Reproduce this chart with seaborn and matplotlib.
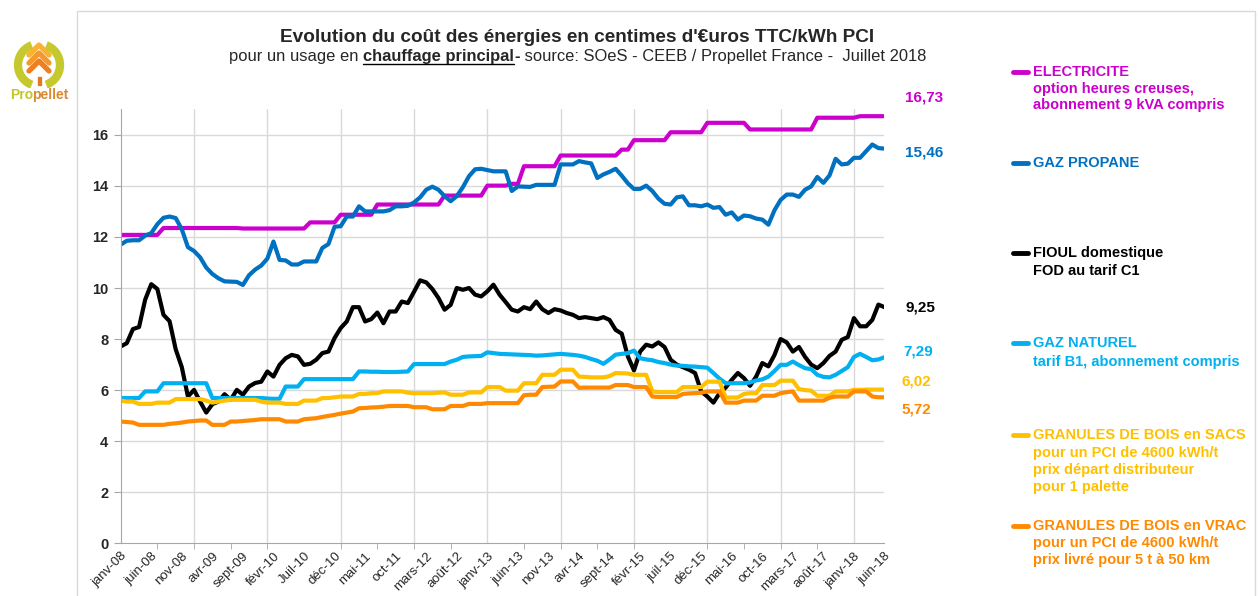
import numpy as np
import pandas as pd
import seaborn as sns
import matplotlib.pyplot as plt
from matplotlib.lines import Line2D
from matplotlib.patches import Rectangle, Arc

W, H = 1260, 596

# Etiquettes de l'axe des mois (une tous les 5 mois, janv-08 -> juin-18)
mois_labels = ["janv-08", "juin-08", "nov-08", "avr-09", "sept-09", "févr-10", "Juil-10",
               "déc-10", "mai-11", "oct-11", "mars-12", "août-12", "janv-13", "juin-13",
               "nov-13", "avr-14", "sept-14", "févr-15", "juil-15", "déc-15", "mai-16",
               "oct-16", "mars-17", "août-17", "janv-18", "juin-18"]

# Prix mensuels en centimes d'euro TTC / kWh PCI, une ligne par année
electricite = [
    12.08, 12.08, 12.08, 12.08, 12.08, 12.08, 12.08, 12.35, 12.35, 12.35, 12.35, 12.35,
    12.35, 12.35, 12.35, 12.35, 12.35, 12.35, 12.35, 12.35, 12.33, 12.33, 12.33, 12.33,
    12.33, 12.33, 12.33, 12.33, 12.33, 12.33, 12.33, 12.57, 12.57, 12.57, 12.57, 12.57,
    12.87, 12.87, 12.87, 12.87, 12.87, 12.87, 13.27, 13.27, 13.27, 13.27, 13.27, 13.27,
    13.27, 13.27, 13.27, 13.27, 13.27, 13.62, 13.62, 13.62, 13.62, 13.62, 13.62, 13.62,
    14.01, 14.01, 14.01, 14.01, 14.08, 14.08, 14.77, 14.77, 14.77, 14.77, 14.77, 14.77,
    15.19, 15.19, 15.19, 15.19, 15.19, 15.19, 15.19, 15.19, 15.19, 15.19, 15.42, 15.42,
    15.79, 15.79, 15.79, 15.79, 15.79, 15.79, 16.10, 16.10, 16.10, 16.10, 16.10, 16.10,
    16.47, 16.47, 16.47, 16.47, 16.47, 16.47, 16.47, 16.21, 16.21, 16.21, 16.21, 16.21,
    16.21, 16.21, 16.21, 16.21, 16.21, 16.21, 16.67, 16.67, 16.67, 16.67, 16.67, 16.67,
    16.67, 16.73, 16.73, 16.73, 16.73, 16.73,
]
propane = [
    11.70, 11.85, 11.87, 11.87, 12.05, 12.15, 12.50, 12.75, 12.80, 12.74, 12.30, 11.60,
    11.45, 11.20, 10.80, 10.55, 10.38, 10.26, 10.25, 10.24, 10.12, 10.50, 10.72, 10.88,
    11.15, 11.82, 11.10, 11.08, 10.92, 10.92, 11.04, 11.04, 11.04, 11.57, 11.72, 12.40,
    12.42, 12.80, 12.80, 13.20, 13.00, 13.00, 13.00, 13.00, 13.05, 13.20, 13.20, 13.22,
    13.35, 13.55, 13.85, 13.97, 13.85, 13.60, 13.40, 13.60, 13.95, 14.38, 14.65, 14.67,
    14.62, 14.57, 14.57, 14.57, 13.80, 13.98, 13.97, 13.96, 14.04, 14.04, 14.04, 14.04,
    14.84, 14.84, 14.84, 14.97, 14.92, 14.88, 14.31, 14.45, 14.55, 14.67, 14.40, 14.10,
    13.88, 13.88, 14.01, 13.80, 13.50, 13.30, 13.27, 13.55, 13.59, 13.24, 13.24, 13.20,
    13.27, 13.14, 13.17, 12.87, 12.96, 12.68, 12.84, 12.81, 12.72, 12.68, 12.48, 13.05,
    13.45, 13.66, 13.66, 13.57, 13.85, 13.98, 14.35, 14.12, 14.41, 15.06, 14.84, 14.87,
    15.10, 15.10, 15.36, 15.62, 15.48, 15.46,
]
fioul = [
    7.71, 7.84, 8.39, 8.47, 9.54, 10.15, 9.96, 8.95, 8.70, 7.60, 6.90, 5.75,
    6.01, 5.55, 5.12, 5.45, 5.55, 5.84, 5.62, 6.01, 5.82, 6.14, 6.28, 6.33,
    6.73, 6.53, 6.99, 7.25, 7.38, 7.32, 6.99, 7.03, 7.19, 7.45, 7.51, 8.04,
    8.43, 8.69, 9.25, 9.25, 8.69, 8.78, 9.04, 8.62, 9.08, 9.08, 9.47, 9.41,
    9.85, 10.30, 10.22, 9.96, 9.61, 9.15, 9.34, 10.00, 9.93, 10.00, 9.74, 9.67,
    9.87, 10.13, 9.74, 9.45, 9.15, 9.08, 9.25, 9.17, 9.47, 9.17, 9.02, 9.17,
    9.12, 9.02, 8.95, 8.82, 8.86, 8.82, 8.78, 8.86, 8.75, 8.36, 8.21, 7.32,
    6.77, 7.51, 7.78, 7.71, 7.87, 7.69, 7.19, 7.00, 6.90, 6.80, 6.67, 5.95,
    5.75, 5.51, 5.88, 6.10, 6.40, 6.67, 6.47, 6.17, 6.53, 7.06, 6.93, 7.38,
    8.00, 7.87, 7.51, 7.69, 7.30, 7.00, 6.86, 7.06, 7.34, 7.51, 7.97, 8.08,
    8.82, 8.50, 8.50, 8.75, 9.35, 9.25,
]
gaz_naturel = [
    5.69, 5.69, 5.69, 5.69, 5.95, 5.95, 5.95, 6.27, 6.27, 6.27, 6.27, 6.27,
    6.27, 6.27, 6.27, 5.69, 5.69, 5.69, 5.69, 5.69, 5.69, 5.69, 5.69, 5.69,
    5.67, 5.66, 5.66, 6.14, 6.14, 6.14, 6.43, 6.43, 6.43, 6.43, 6.43, 6.43,
    6.43, 6.43, 6.43, 6.73, 6.73, 6.72, 6.72, 6.71, 6.71, 6.71, 6.72, 6.73,
    7.02, 7.02, 7.02, 7.02, 7.02, 7.02, 7.12, 7.19, 7.30, 7.32, 7.33, 7.34,
    7.48, 7.45, 7.42, 7.41, 7.40, 7.39, 7.38, 7.37, 7.35, 7.36, 7.38, 7.40,
    7.42, 7.40, 7.38, 7.35, 7.30, 7.22, 7.15, 7.03, 7.20, 7.39, 7.42, 7.45,
    7.55, 7.25, 7.20, 7.17, 7.10, 7.06, 7.00, 6.96, 6.95, 6.93, 6.92, 6.90,
    6.88, 6.67, 6.45, 6.27, 6.27, 6.27, 6.27, 6.30, 6.38, 6.42, 6.53, 6.75,
    6.99, 6.99, 7.12, 6.98, 6.86, 6.82, 6.60, 6.52, 6.50, 6.60, 6.75, 6.90,
    7.30, 7.42, 7.30, 7.17, 7.20, 7.29,
]
granules_sacs = [
    5.59, 5.55, 5.55, 5.46, 5.46, 5.46, 5.51, 5.51, 5.51, 5.65, 5.65, 5.65,
    5.65, 5.65, 5.59, 5.51, 5.55, 5.59, 5.62, 5.62, 5.62, 5.62, 5.62, 5.55,
    5.51, 5.51, 5.51, 5.46, 5.46, 5.46, 5.59, 5.59, 5.59, 5.69, 5.69, 5.72,
    5.75, 5.75, 5.75, 5.85, 5.85, 5.88, 5.88, 5.95, 5.95, 5.95, 5.95, 5.90,
    5.88, 5.88, 5.88, 5.88, 5.90, 5.91, 5.82, 5.82, 5.82, 5.91, 5.91, 5.91,
    6.12, 6.12, 6.12, 5.98, 5.98, 5.98, 6.27, 6.27, 6.27, 6.60, 6.60, 6.60,
    6.80, 6.80, 6.80, 6.53, 6.52, 6.50, 6.50, 6.50, 6.55, 6.67, 6.66, 6.65,
    6.60, 6.60, 6.60, 5.95, 5.92, 5.92, 5.92, 5.92, 6.12, 6.12, 6.12, 6.12,
    6.33, 6.33, 6.33, 5.71, 5.71, 5.71, 5.85, 5.88, 5.88, 6.20, 6.20, 6.20,
    6.37, 6.37, 6.37, 6.04, 6.00, 5.98, 5.78, 5.78, 5.78, 5.95, 5.95, 5.95,
    6.01, 6.01, 6.02, 6.02, 6.02, 6.02,
]
granules_vrac = [
    4.77, 4.75, 4.73, 4.64, 4.64, 4.64, 4.64, 4.64, 4.68, 4.70, 4.73, 4.77,
    4.79, 4.81, 4.81, 4.64, 4.64, 4.64, 4.77, 4.77, 4.79, 4.81, 4.83, 4.86,
    4.86, 4.86, 4.86, 4.77, 4.77, 4.77, 4.86, 4.88, 4.90, 4.95, 4.99, 5.03,
    5.08, 5.12, 5.16, 5.29, 5.30, 5.32, 5.33, 5.35, 5.38, 5.38, 5.38, 5.38,
    5.33, 5.33, 5.33, 5.25, 5.25, 5.25, 5.38, 5.38, 5.38, 5.46, 5.46, 5.46,
    5.49, 5.49, 5.49, 5.49, 5.49, 5.49, 5.80, 5.82, 5.82, 6.12, 6.13, 6.14,
    6.34, 6.34, 6.34, 6.09, 6.10, 6.10, 6.10, 6.10, 6.10, 6.20, 6.20, 6.20,
    6.12, 6.12, 6.12, 5.75, 5.73, 5.73, 5.73, 5.73, 5.85, 5.87, 5.88, 5.90,
    5.95, 5.95, 5.95, 5.51, 5.51, 5.51, 5.59, 5.59, 5.59, 5.78, 5.78, 5.78,
    5.88, 5.92, 5.95, 5.59, 5.59, 5.59, 5.59, 5.59, 5.70, 5.75, 5.75, 5.75,
    5.95, 5.95, 5.95, 5.75, 5.72, 5.72,
]

energies = ["ELECTRICITE", "GAZ PROPANE", "FIOUL", "GAZ NATUREL", "SACS", "VRAC"]
couleurs = ["#CC00CC", "#0070C0", "#000000", "#00B0F0", "#FFC000", "#FF8A00"]
valeurs_finales = ["16,73", "15,46", "9,25", "7,29", "6,02", "5,72"]

palette = dict(zip(energies, couleurs))
series = [electricite, propane, fioul, gaz_naturel, granules_sacs, granules_vrac]
df = pd.concat([pd.DataFrame({"mois": np.arange(len(v)), "valeur": v, "energie": e})
                for e, v in zip(energies, series)], ignore_index=True)

sns.set_style("white")
plt.rcParams['font.family'] = ['Liberation Sans', 'DejaVu Sans']

fig = plt.figure(figsize=(W / 100, H / 100), dpi=100)


def fx(px):
    return px / W


def fy(py):
    return 1 - py / H


# cadre gris autour du graphique (le bas sort de l'image)
fig.add_artist(Rectangle((fx(77), fy(600)), (1255 - 77) / W, (600 - 10.7) / H,
                         transform=fig.transFigure, fill=False, edgecolor="#D9D9D9", lw=1))

ax = fig.add_axes([fx(120.7), fy(543.3), (884.5 - 120.7) / W, (543.3 - 109.3) / H])
ax.set_facecolor("none")

for m in range(12, 126, 12):
    ax.axvline(m, color="#D9D9D9", lw=1, zorder=0)
for v in range(2, 17, 2):
    ax.axhline(v, color="#D9D9D9", lw=1, zorder=0)

sns.lineplot(data=df, x="mois", y="valeur", hue="energie", hue_order=energies,
             palette=palette, linewidth=3, legend=False, ax=ax, estimator=None,
             sort=False, solid_joinstyle="round", solid_capstyle="round")

ax.set_xlim(0, 125)
ax.set_ylim(0, 17)
ax.set_xlabel("")
ax.set_ylabel("")
ax.set_yticks(range(0, 17, 2))
ax.set_xticks(range(0, 126, 5))
ax.set_xticklabels(mois_labels, rotation=45, ha="right", rotation_mode="anchor", fontsize=9.5)
ax.set_xticks(range(0, 126, 6), minor=True)
ax.tick_params(axis="x", which="major", bottom=True, length=0, pad=5)
ax.tick_params(axis="x", which="minor", bottom=True, length=4, color="#A6A6A6")
ax.tick_params(axis="y", left=True, length=5, color="#A6A6A6", labelsize=10.5, pad=4)
for lab in ax.get_yticklabels():
    lab.set_fontweight("bold")
for s in ["top", "right"]:
    ax.spines[s].set_visible(False)
for s in ["left", "bottom"]:
    ax.spines[s].set_color("#A6A6A6")

# titres
fig.text(fx(577.5), fy(41.5), "Evolution du coût des énergies en centimes d'€uros TTC/kWh PCI",
         ha="center", va="baseline", fontsize=13.7, fontweight="bold")

renderer = fig.canvas.get_renderer()
morceaux = [("pour un usage en ", "normal", False), ("chauffage principal", "bold", True),
            ("-", "bold", False), (" source: SOeS - CEEB / Propellet France -  Juillet 2018", "normal", False)]
textes = [fig.text(0, fy(61), t, ha="left", va="baseline", fontsize=11.9, fontweight=w)
          for t, w, _ in morceaux]
largeurs = [t.get_window_extent(renderer).width for t in textes]
x0 = 577.5 - sum(largeurs) / 2
for t, l, (_, _, souligne) in zip(textes, largeurs, morceaux):
    t.set_x(fx(x0))
    if souligne:
        fig.add_artist(Line2D([fx(x0), fx(x0 + l)], [fy(63.5), fy(63.5)], color="black", lw=1))
    x0 += l

# valeurs de fin de série
pos_valeurs = [(905, 97), (905, 152), (905, 308), (903, 352), (902, 381), (901, 410)]
for (px, py), txt, c in zip(pos_valeurs, valeurs_finales, couleurs):
    fig.text(fx(px), fy(py), txt, color=c, fontsize=11, fontweight="bold", va="center", ha="left")

# légende à droite
legende = [
    (["ELECTRICITE", "option heures creuses,", "abonnement 9 kVA compris"], [71.7, 89.3, 105.5]),
    (["GAZ PROPANE"], [162.7]),
    (["FIOUL domestique", "FOD au tarif C1"], [252.7, 270.7]),
    (["GAZ NATUREL", "tarif B1, abonnement compris"], [343.3, 361.7]),
    (["GRANULES DE BOIS en SACS", "pour un PCI de 4600 kWh/t", "prix départ distributeur",
      "pour 1 palette"], [435, 452.7, 470, 486.7]),
    (["GRANULES DE BOIS en VRAC", "pour un PCI de 4600 kWh/t", "prix livré pour 5 t à 50 km"],
     [526, 543.3, 560]),
]
for (lignes, ys), c in zip(legende, couleurs):
    fig.add_artist(Line2D([fx(1013), fx(1028)], [fy(ys[0]), fy(ys[0])], color=c, lw=3.5,
                          solid_capstyle="round"))
    for txt, py in zip(lignes, ys):
        fig.text(fx(1033), fy(py), txt, color=c, fontsize=10.5, fontweight="bold",
                 va="center", ha="left")

# logo Propellet
lax = fig.add_axes([fx(9), fy(88), 60 / W, 48 / H])
lax.set_xlim(0, 60)
lax.set_ylim(0, 48)
lax.axis("off")
lax.add_patch(Arc((30, 23), 42, 42, theta1=110, theta2=250, color="#C5C92E", lw=6))
lax.add_patch(Arc((30, 23), 42, 42, theta1=-70, theta2=70, color="#C5C92E", lw=6))
for i, c in enumerate(["#F9B233", "#F39A2B", "#EE7F22"]):
    top = 43 - 8 * i
    lax.plot([20, 30, 40], [top - 10, top, top - 10], color=c, lw=3.8, solid_capstyle="round")
lax.add_patch(Rectangle((28.7, 3), 2.8, 8, color="#E07B22"))
t_pro = fig.text(fx(10), fy(95), "Pro", color="#C3C62A", fontsize=10, fontweight="bold",
                 ha="left", va="center")
x_pellet = 10 + t_pro.get_window_extent(renderer).width - 1
fig.text(fx(x_pellet), fy(95), "pellet", color="#D98A2F", fontsize=10, fontweight="bold",
         ha="left", va="center")

fig.savefig("out.png", dpi=100)
